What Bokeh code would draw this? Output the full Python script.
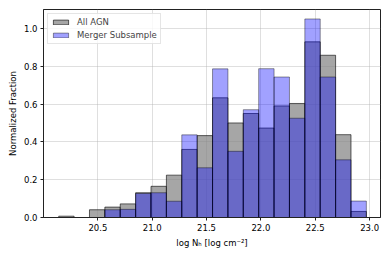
import numpy as np
from bokeh.plotting import figure
from bokeh.models import FixedTicker, NumeralTickFormatter, Range1d
from bokeh.embed import file_html
from bokeh.resources import INLINE

# Histogram binning (20 bins)
nh_min = 20.14
nh_max = 22.97
n_bins = 20

# Normalized fractions per bin
all_agn = [0.007, 0.0, 0.041, 0.055, 0.072, 0.131, 0.165, 0.224, 0.36, 0.433,
           0.633, 0.50, 0.55, 0.473, 0.59, 0.603, 0.929, 0.858, 0.438, 0.032]
merger = [0.0, 0.0, 0.0, 0.041, 0.043, 0.127, 0.131, 0.086, 0.437, 0.263,
          0.786, 0.35, 0.57, 0.787, 0.743, 0.525, 1.05, 0.743, 0.305, 0.087]

x_ticks = [20.5, 21.0, 21.5, 22.0, 22.5, 23.0]
y_ticks = [0.0, 0.2, 0.4, 0.6, 0.8, 1.0]

edges = np.linspace(nh_min, nh_max, n_bins + 1)
left = edges[:-1]
right = edges[1:]

FONT = "DejaVu Sans"
FS = "8.5px"

p = figure(frame_width=337, frame_height=208, output_backend="svg",
           toolbar_location=None,
           x_range=Range1d(20.0, 23.1), y_range=Range1d(0, 1.10),
           min_border_left=43, min_border_right=10, min_border_top=9,
           min_border_bottom=43)

p.quad(left=left, right=right, bottom=0, top=all_agn,
       fill_color="#808080", fill_alpha=0.7, line_color="black", line_alpha=0.6,
       line_width=1, legend_label="All AGN")
p.quad(left=left, right=right, bottom=0, top=merger,
       fill_color="blue", fill_alpha=0.37, line_color="black", line_alpha=0.4,
       line_width=1, legend_label="Merger Subsample")

p.xaxis.ticker = FixedTicker(ticks=x_ticks)
p.yaxis.ticker = FixedTicker(ticks=y_ticks)
p.xaxis.formatter = NumeralTickFormatter(format="0.0")
p.yaxis.formatter = NumeralTickFormatter(format="0.0")

for ax in (p.xaxis, p.yaxis):
    ax.major_label_text_font = FONT
    ax.major_label_text_font_size = FS
    ax.major_label_text_color = "black"
    ax.axis_label_text_font = FONT
    ax.axis_label_text_font_size = FS
    ax.axis_label_text_font_style = "normal"
    ax.axis_label_text_color = "black"
    ax.major_tick_out = 3
    ax.major_tick_in = 0
    ax.minor_tick_out = 0
    ax.minor_tick_in = 0
    ax.axis_line_color = "#222222"
    ax.major_tick_line_color = "#222222"
    ax.major_label_standoff = 3
    ax.axis_label_standoff = 4

p.yaxis.axis_label_standoff = 3

p.xaxis.axis_label = "log Nₕ [log cm⁻²]"
p.yaxis.axis_label = "Normalized Fraction"

p.outline_line_color = "#222222"
p.outline_line_width = 1

p.grid.grid_line_color = "#b0b0b0"
p.grid.grid_line_alpha = 0.4
p.grid.grid_line_width = 1

p.legend.location = "top_left"
p.legend.margin = 4
p.legend.padding = 3
p.legend.spacing = 3
p.legend.label_height = 10
p.legend.glyph_height = 6
p.legend.glyph_width = 19
p.legend.label_standoff = 7
p.legend.label_text_font = FONT
p.legend.label_text_font_size = FS
p.legend.border_line_color = "#cccccc"
p.legend.border_line_width = 1
p.legend.background_fill_alpha = 0.8

open("out.html", "w").write(file_html(p, INLINE))
